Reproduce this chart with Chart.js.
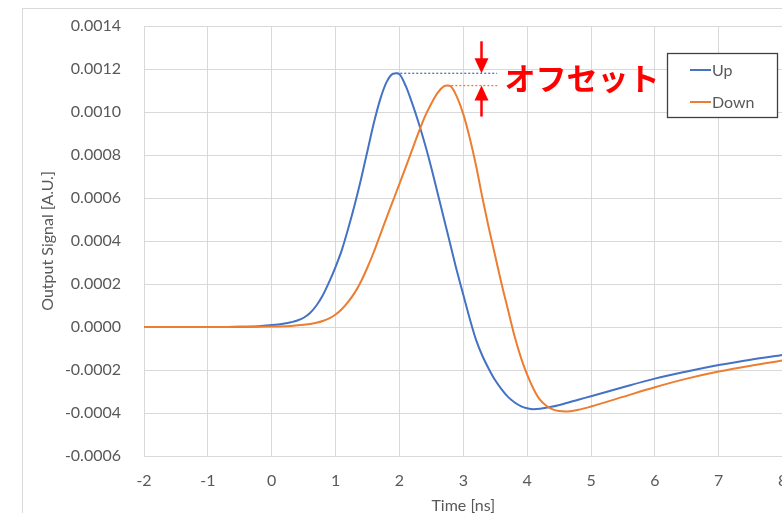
<!DOCTYPE html>
<html>
<head>
<meta charset="utf-8">
<script src="https://cdn.jsdelivr.net/npm/chart.js@4.4.1/dist/chart.umd.min.js"></script>
<style>
  html, body { margin: 0; padding: 0; overflow: hidden; background: #fff; width: 782px; height: 513px; }
  #wrap { position: absolute; left: 0; top: 0; width: 800px; height: 530px; }
</style>
</head>
<body>
<div id="wrap"><canvas id="c" width="800" height="530"></canvas></div>
<script>
// Time axis [ns] and output signal [A.U.] for the two polarities
const upTime = [-0.8, -0.5, -0.2, 0, 0.1, 0.2, 0.3, 0.4, 0.5, 0.6, 0.7, 0.8, 0.9, 1.0, 1.1, 1.2, 1.3, 1.4, 1.5, 1.6, 1.7, 1.8, 1.9, 1.95, 2.0, 2.1, 2.2, 2.3, 2.4, 2.5, 2.6, 2.7, 2.8, 2.9, 3.0, 3.1, 3.2, 3.3, 3.4, 3.5, 3.6, 3.7, 3.8, 3.9, 4.0, 4.1, 4.2, 4.4, 4.6, 4.8, 5.0, 5.5, 6.0, 6.5, 7.0, 7.5, 8.0];
const upValues = [0, 0.000001, 0.000004, 0.000009, 0.000012, 0.000016, 0.000022, 0.00003, 0.000043, 0.000065, 0.0001, 0.000148, 0.00021, 0.00028, 0.00036, 0.00046, 0.00057, 0.00069, 0.00082, 0.00095, 0.00106, 0.00114, 0.001178, 0.00118, 0.001176, 0.00112, 0.00104, 0.00095, 0.00085, 0.00074, 0.00062, 0.0005, 0.00038, 0.00026, 0.00015, 0.00004, -0.00006, -0.000135, -0.000195, -0.000248, -0.00029, -0.000325, -0.00035, -0.000368, -0.000378, -0.000382, -0.00038, -0.00037, -0.000355, -0.000338, -0.000322, -0.00028, -0.00024, -0.000207, -0.000177, -0.000152, -0.00013];

const downTime = [-2, -1, -0.5, 0, 0.3, 0.5, 0.7, 0.8, 0.9, 1.0, 1.1, 1.2, 1.3, 1.4, 1.5, 1.6, 1.7, 1.8, 1.9, 2.0, 2.1, 2.2, 2.3, 2.4, 2.5, 2.6, 2.7, 2.75, 2.8, 2.9, 3.0, 3.1, 3.2, 3.3, 3.4, 3.5, 3.6, 3.7, 3.8, 3.9, 4.0, 4.1, 4.2, 4.3, 4.4, 4.5, 4.6, 4.8, 5.0, 5.5, 6.0, 6.5, 7.0, 7.5, 8.0];
const downValues = [0, 0, 0.000001, 0.000002, 0.000005, 0.00001, 0.00002, 0.000028, 0.00004, 0.000058, 0.000084, 0.000118, 0.00016, 0.000213, 0.000278, 0.00035, 0.00043, 0.00051, 0.000588, 0.000666, 0.000745, 0.000825, 0.000905, 0.00098, 0.00104, 0.00109, 0.00112, 0.001123, 0.00112, 0.00107, 0.00099, 0.00088, 0.00075, 0.0006, 0.00046, 0.00033, 0.0002, 0.00008, -0.00004, -0.00014, -0.000222, -0.000288, -0.000338, -0.000366, -0.000383, -0.000391, -0.000393, -0.000385, -0.00037, -0.000325, -0.00028, -0.00024, -0.000207, -0.00018, -0.000156];

const xTicks = [-2, -1, 0, 1, 2, 3, 4, 5, 6, 7, 8];
const yTicks = [-0.0006, -0.0004, -0.0002, 0, 0.0002, 0.0004, 0.0006, 0.0008, 0.0010, 0.0012, 0.0014];

const seriesLabels = ['Up', 'Down'];
const offsetLabel = 'オフセット';
// end of the dotted peak guides and the arrow position, in ns
const guideEnd = 3.53;
const arrowTime = 3.28;

const BLUE = '#4472C4';
const ORANGE = '#ED7D31';
const TEXT = '#595959';
const GRID = '#d9d9d9';
const FONT = 'Lato, "Open Sans", sans-serif';

function toPoints(ts, vs) { return ts.map((t, i) => ({ x: t, y: vs[i] })); }
function peakOf(ts, vs) {
  let k = 0;
  vs.forEach((v, i) => { if (v > vs[k]) k = i; });
  return { t: ts[k], v: vs[k] };
}
const upPeak = peakOf(upTime, upValues);
const downPeak = peakOf(downTime, downValues);

function drawArrow(ctx, x, from, tip) {
  const dir = Math.sign(tip - from), head = 15, hw = 7;
  ctx.strokeStyle = '#ff0000';
  ctx.lineWidth = 2.5;
  ctx.beginPath();
  ctx.moveTo(x, from);
  ctx.lineTo(x, tip - dir * head + dir);
  ctx.stroke();
  ctx.fillStyle = '#ff0000';
  ctx.beginPath();
  ctx.moveTo(x, tip);
  ctx.lineTo(x - hw, tip - dir * head);
  ctx.lineTo(x + hw, tip - dir * head);
  ctx.closePath();
  ctx.fill();
}

const decorations = {
  id: 'decorations',
  beforeDraw(chart) {
    const ctx = chart.ctx;
    ctx.save();
    ctx.strokeStyle = GRID;
    ctx.lineWidth = 1;
    ctx.strokeRect(22.5, 8.5, chart.width, chart.height);
    ctx.restore();
  },
  afterDraw(chart) {
    const ctx = chart.ctx, xs = chart.scales.x, ys = chart.scales.y;
    ctx.save();
    // offset arrows and label
    const ax = Math.round(xs.getPixelForValue(arrowTime)) + 0.5;
    const yUp = ys.getPixelForValue(upPeak.v);
    const yDown = ys.getPixelForValue(downPeak.v);
    drawArrow(ctx, ax, yUp - 32, yUp);
    drawArrow(ctx, ax, yDown + 31, yDown);
    ctx.font = 'bold 31px "Noto Sans CJK JP"';
    ctx.fillStyle = '#ff0000';
    ctx.textAlign = 'left';
    ctx.textBaseline = 'middle';
    ctx.fillText(offsetLabel, ax + 23, (yUp + yDown) / 2 - 1);

    // legend box
    const lx = 667.5, ly = 53.5, lw = 110, lh = 64;
    ctx.fillStyle = '#fff';
    ctx.fillRect(lx, ly, lw, lh);
    ctx.strokeStyle = '#404040';
    ctx.lineWidth = 1.3;
    ctx.strokeRect(lx, ly, lw, lh);
    const colors = [BLUE, ORANGE];
    const rows = [70, 102];
    ctx.font = '16px ' + FONT;
    ctx.textBaseline = 'middle';
    seriesLabels.forEach((lab, i) => {
      ctx.strokeStyle = colors[i];
      ctx.lineWidth = 2;
      ctx.beginPath();
      ctx.moveTo(690, rows[i]);
      ctx.lineTo(711, rows[i]);
      ctx.stroke();
      ctx.fillStyle = TEXT;
      ctx.fillText(lab, 712, rows[i] + 1);
    });
    ctx.restore();
  }
};

new Chart(document.getElementById('c'), {
  type: 'line',
  data: {
    datasets: [
      {
        label: seriesLabels[0],
        data: toPoints(upTime, upValues),
        borderColor: BLUE,
        borderWidth: 2,
        pointRadius: 0,
        cubicInterpolationMode: 'monotone',
        order: 2
      },
      {
        label: seriesLabels[1],
        data: toPoints(downTime, downValues),
        borderColor: ORANGE,
        borderWidth: 2,
        pointRadius: 0,
        cubicInterpolationMode: 'monotone',
        order: 1
      },
      {
        label: 'up-peak',
        data: [{ x: upPeak.t, y: upPeak.v }, { x: guideEnd, y: upPeak.v }],
        borderColor: BLUE,
        borderWidth: 1.3,
        borderDash: [2, 2],
        pointRadius: 0,
        order: 0
      },
      {
        label: 'down-peak',
        data: [{ x: downPeak.t, y: downPeak.v }, { x: guideEnd, y: downPeak.v }],
        borderColor: ORANGE,
        borderWidth: 1.3,
        borderDash: [2, 2],
        pointRadius: 0,
        order: 0
      }
    ]
  },
  options: {
    responsive: false,
    animation: false,
    devicePixelRatio: 1,
    layout: { padding: { left: 22, top: 26, right: 17.4, bottom: 0 } },
    plugins: { legend: { display: false }, tooltip: { enabled: false } },
    scales: {
      x: {
        type: 'linear',
        min: -2,
        max: 8,
        afterBuildTicks: (s) => { s.ticks = xTicks.map(v => ({ value: v })); },
        afterFit: (s) => { s.height = 74; s.paddingLeft = 0; s.paddingRight = 0; },
        grid: { color: GRID, drawTicks: false },
        border: { color: GRID },
        ticks: { color: TEXT, font: { family: FONT, size: 16 }, padding: 15, maxRotation: 0 },
        title: { display: true, text: 'Time [ns]', color: TEXT, font: { family: FONT, size: 16 }, padding: { top: 0, bottom: 15 } }
      },
      y: {
        type: 'linear',
        min: -0.0006,
        max: 0.0014,
        afterBuildTicks: (s) => { s.ticks = yTicks.map(v => ({ value: v })); },
        afterFit: (s) => { s.width = 122; s.paddingTop = 0; s.paddingBottom = 0; },
        grid: { color: GRID, drawTicks: false },
        border: { color: GRID },
        ticks: {
          color: TEXT,
          font: { family: FONT, size: 16 },
          padding: 23,
          callback: (v) => (Math.abs(v) < 1e-12 ? 0 : v).toFixed(4)
        },
        title: { display: true, text: 'Output Signal [A.U.]', color: TEXT, font: { family: FONT, size: 16 }, padding: { top: 16, bottom: 0 } }
      }
    }
  },
  plugins: [decorations]
});
</script>
</body>
</html>
